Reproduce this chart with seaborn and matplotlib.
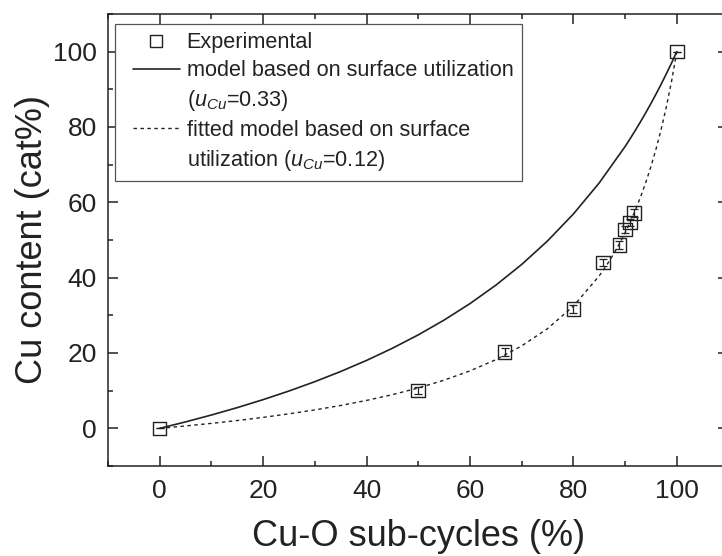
import matplotlib
matplotlib.use("Agg")
import matplotlib.pyplot as plt
import seaborn as sns
import pandas as pd
from matplotlib.lines import Line2D
from matplotlib.legend_handler import HandlerLine2D
from matplotlib.ticker import MultipleLocator

# Experimental data
exp_x = [0, 50, 66.7, 80, 85.7, 88.9, 90, 90.9, 91.7, 100]
exp_y = [0, 10, 20.3, 31.7, 44.0, 48.7, 52.8, 54.6, 57.1, 100]
exp_err = [0, 1.0, 1.0, 1.0, 1.0, 1.0, 1.0, 1.0, 1.0, 0]

# Model curve (u_Cu = 0.33)
model_x = [0, 5, 10, 15, 20, 25, 30, 35, 40, 45, 50, 55, 60, 65, 70, 75, 80,
           85, 90, 91, 92, 93, 94, 95, 96, 97, 98, 99, 100]
model_y = [0, 1.71, 3.54, 5.50, 7.62, 9.91, 12.39, 15.09, 18.03, 21.26, 24.81,
           28.74, 33.11, 38.00, 43.50, 49.75, 56.90, 65.16, 74.81, 76.94, 79.15,
           81.43, 83.79, 86.24, 88.79, 91.43, 94.18, 97.03, 100]

# Fitted model curve (u_Cu = 0.12)
fit_x = [0, 5, 10, 15, 20, 25, 30, 35, 40, 45, 50, 55, 60, 65, 70, 75, 80,
         85, 86, 87, 88, 89, 90, 91, 92, 93, 94, 95, 96, 97, 98, 99, 100]
fit_y = [0, 0.63, 1.32, 2.07, 2.91, 3.85, 4.89, 6.07, 7.41, 8.94, 10.71, 12.79,
         15.25, 18.22, 21.88, 26.47, 32.43, 40.48, 42.43, 44.54, 46.81, 49.26,
         51.92, 54.82, 57.98, 61.45, 65.28, 69.51, 74.23, 79.51, 85.47, 92.24, 100]

x_ticks = [0, 20, 40, 60, 80, 100]
y_ticks = [0, 20, 40, 60, 80, 100]

sns.set_theme(style="ticks")
plt.rcParams['font.family'] = ['Liberation Sans', 'DejaVu Sans']
plt.rcParams['mathtext.fontset'] = 'custom'
plt.rcParams['mathtext.rm'] = 'Liberation Sans'
plt.rcParams['mathtext.it'] = 'Liberation Sans:italic'

fig = plt.figure(figsize=(7.22, 5.56), dpi=100)
ax = fig.add_axes([108 / 722, 1 - 466 / 556, (728.5 - 108) / 722, (466 - 14) / 556])

ink = "#222222"
df_model = pd.DataFrame({"x": model_x, "y": model_y})
df_fit = pd.DataFrame({"x": fit_x, "y": fit_y})
df_exp = pd.DataFrame({"x": exp_x, "y": exp_y})

sns.lineplot(data=df_model, x="x", y="y", ax=ax, color=ink, lw=1.2, sort=False,
             estimator=None)
sns.lineplot(data=df_fit, x="x", y="y", ax=ax, color=ink, lw=1.0, sort=False,
             estimator=None, linestyle=(0, (2.5, 2.5)))
ax.errorbar(exp_x, exp_y, yerr=exp_err, fmt="none", ecolor=ink, elinewidth=0.9,
            capsize=3.2, capthick=0.9, zorder=3)
sns.scatterplot(data=df_exp, x="x", y="y", ax=ax, marker="s", s=95,
                facecolor="none", edgecolor=ink, linewidth=1.0, zorder=4)

ax.set_xlim(-10, 110)
ax.set_ylim(-10, 110)
ax.set_xticks(x_ticks)
ax.set_yticks(y_ticks)
ax.xaxis.set_minor_locator(MultipleLocator(10))
ax.yaxis.set_minor_locator(MultipleLocator(10))
ax.tick_params(which="both", direction="in", top=True, right=True,
               color=ink, width=1.1)
ax.tick_params(which="major", length=7, labelsize=19, labelcolor=ink)
ax.tick_params(axis="x", which="major", pad=9)
ax.tick_params(axis="y", which="major", pad=8)
ax.tick_params(which="minor", length=3.6)
for s in ax.spines.values():
    s.set_linewidth(1.1)
    s.set_color(ink)

ax.set_xlabel("Cu-O sub-cycles (%)", fontsize=26, color=ink, labelpad=12)
ax.set_ylabel("Cu content (cat%)", fontsize=26, color=ink, labelpad=2)


class ShiftedHandler(HandlerLine2D):
    """Line handler whose drawing starts a little to the right."""

    def __init__(self, shift_em, **kw):
        super().__init__(**kw)
        self.shift_em = shift_em

    def create_artists(self, legend, orig_handle, xdescent, ydescent, width,
                       height, fontsize, trans):
        sh = self.shift_em * fontsize
        return super().create_artists(legend, orig_handle, xdescent - sh,
                                      ydescent, width - sh, height, fontsize, trans)


blank = Line2D([], [], color="none")
blank2 = Line2D([], [], color="none")
h_exp = Line2D([], [], marker="s", markersize=9, markerfacecolor="none",
               markeredgecolor=ink, markeredgewidth=1.0, linestyle="none")
h_model = Line2D([], [], color=ink, lw=1.2)
h_fit = Line2D([], [], color=ink, lw=1.0, linestyle=(0, (2.5, 2.5)))
handles = [h_exp, h_model, blank, h_fit, blank2]
labels = [
    "Experimental",
    "model based on surface utilization",
    r"($\mathit{u}_{\mathit{Cu}}$=0.33)",
    "fitted model based on surface",
    r"utilization ($\mathit{u}_{\mathit{Cu}}$=0.12)",
]
shift = 0.43
hmap = {h: ShiftedHandler(shift) for h in handles}
leg = ax.legend(handles, labels, loc="upper left", bbox_to_anchor=(7 / 620, 1 - 10 / 452),
                fontsize=15.6, frameon=True, fancybox=False, edgecolor="#555555",
                framealpha=1, handlelength=2.2 + shift, handletextpad=0.3,
                labelspacing=0.32, borderpad=0.38, borderaxespad=0, handler_map=hmap)
leg.get_frame().set_linewidth(0.9)
for t in leg.get_texts():
    t.set_color(ink)

fig.savefig("out.png", dpi=100)
